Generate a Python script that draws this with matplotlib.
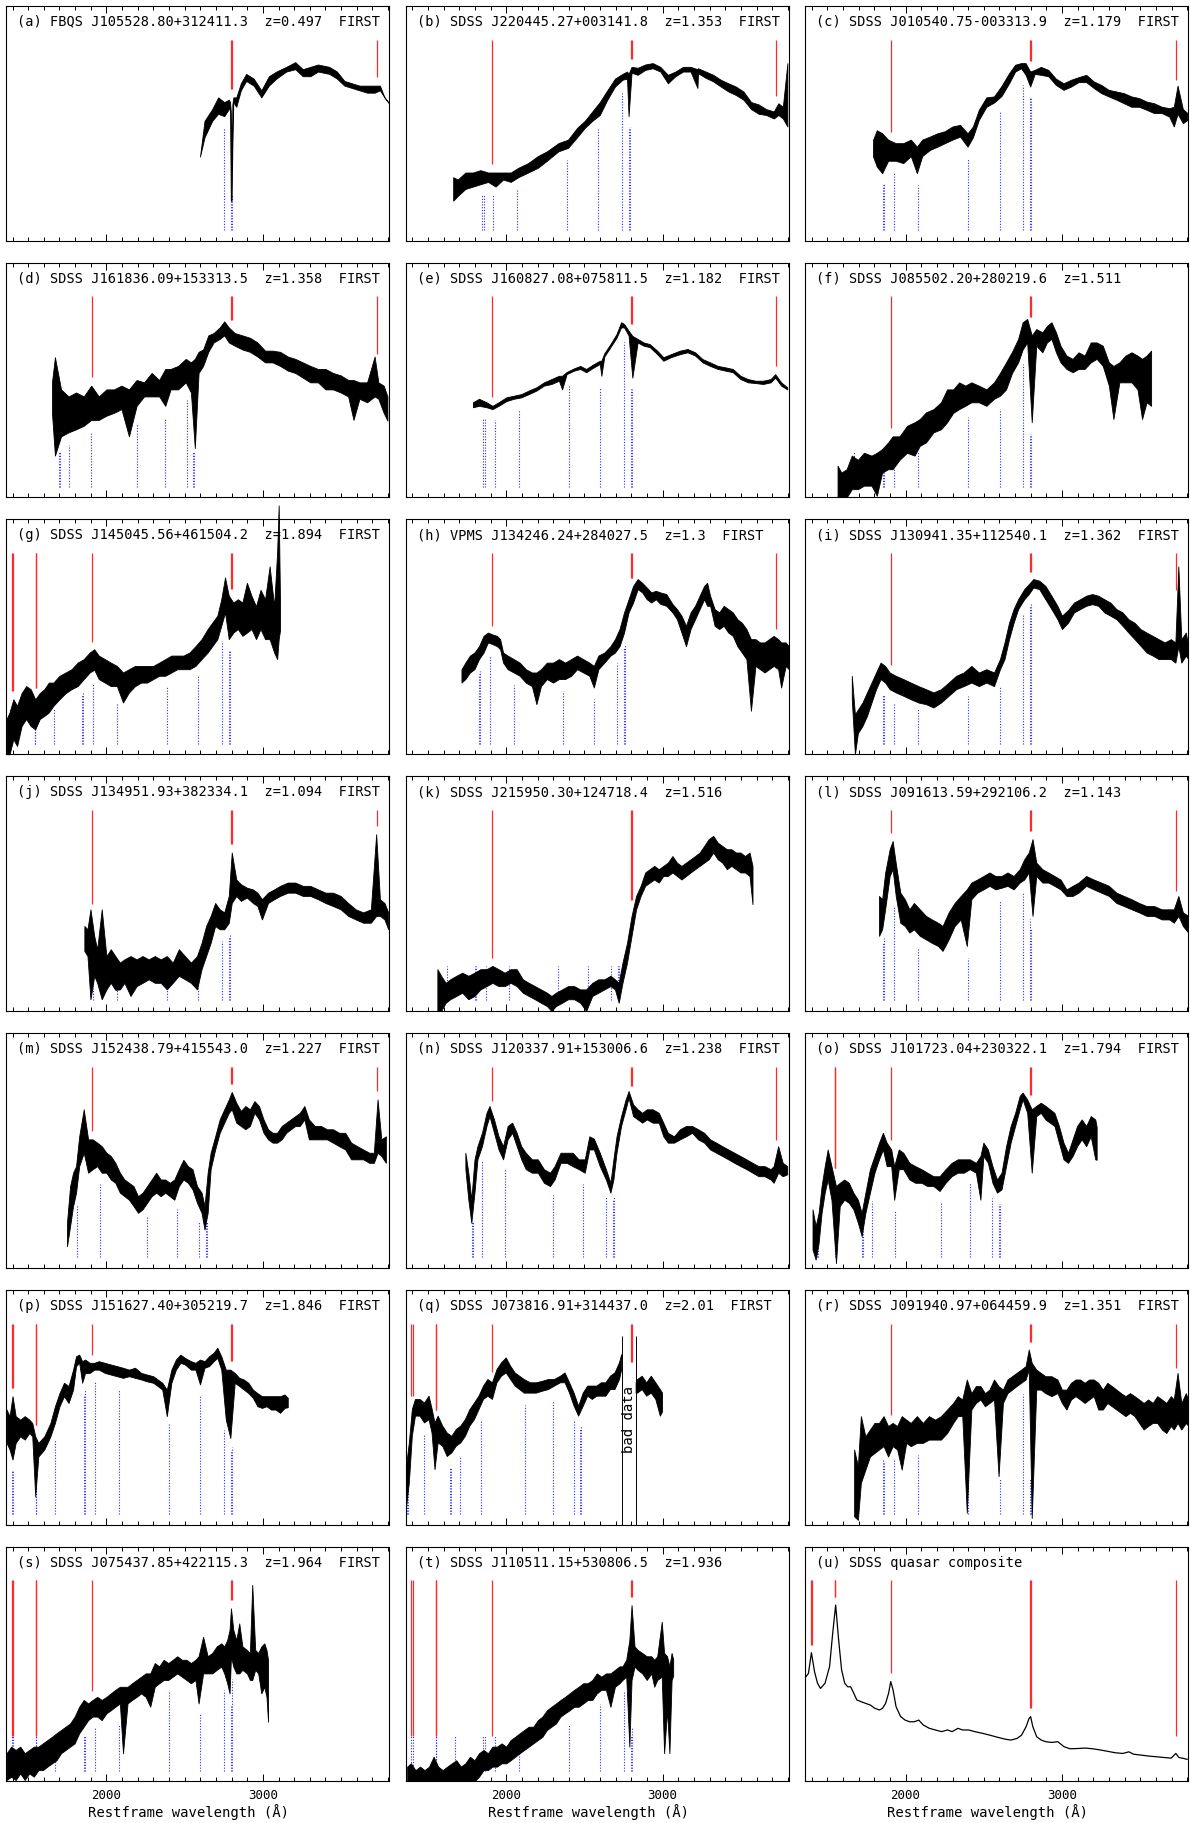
import numpy as np
import matplotlib
matplotlib.use("Agg")
import matplotlib.pyplot as plt
from matplotlib.ticker import MultipleLocator, FixedLocator

# ---------------- data (relative flux in % of panel height) ----------------
titles = [
    "(a) FBQS J105528.80+312411.3  z=0.497  FIRST",
    "(b) SDSS J220445.27+003141.8  z=1.353  FIRST",
    "(c) SDSS J010540.75-003313.9  z=1.179  FIRST",
    "(d) SDSS J161836.09+153313.5  z=1.358  FIRST",
    "(e) SDSS J160827.08+075811.5  z=1.182  FIRST",
    "(f) SDSS J085502.20+280219.6  z=1.511",
    "(g) SDSS J145045.56+461504.2  z=1.894  FIRST",
    "(h) VPMS J134246.24+284027.5  z=1.3  FIRST",
    "(i) SDSS J130941.35+112540.1  z=1.362  FIRST",
    "(j) SDSS J134951.93+382334.1  z=1.094  FIRST",
    "(k) SDSS J215950.30+124718.4  z=1.516",
    "(l) SDSS J091613.59+292106.2  z=1.143",
    "(m) SDSS J152438.79+415543.0  z=1.227  FIRST",
    "(n) SDSS J120337.91+153006.6  z=1.238  FIRST",
    "(o) SDSS J101723.04+230322.1  z=1.794  FIRST",
    "(p) SDSS J151627.40+305219.7  z=1.846  FIRST",
    "(q) SDSS J073816.91+314437.0  z=2.01  FIRST",
    "(r) SDSS J091940.97+064459.9  z=1.351  FIRST",
    "(s) SDSS J075437.85+422115.3  z=1.964  FIRST",
    "(t) SDSS J110511.15+530806.5  z=1.936",
    "(u) SDSS quasar composite",
]

# absorber-frame scaling of the absorption line list (relative to emission frame)
abs_factor = [1.0, 0.996, 1.0, 0.914, 1.0, 1.0, 0.995, 0.985, 1.0, 0.995,
              0.971, 1.0, 0.942, 0.959, 0.928, 1.0, 0.884, 1.0, 1.0, 1.0, None]

EMIS_LINES = [[1393.76, 1402.77], [1548.20, 1550.77], [1908.73],
              [2796.35, 2803.53], [3727.0]]
ABS_LINES = [[1393.76, 1402.77], [1548.20, 1550.77], [1670.79],
             [1854.72, 1862.79], [1926.3], [2080.0], [2400.0], [2600.17],
             [2752.0], [2796.35, 2803.53]]

bad_data_q = [2743, 2830]

lam_a = [2598, 2627, 2676, 2714, 2753, 2782, 2790, 2795, 2800, 2805, 2811, 2830, 2859, 2893, 2941, 2990, 3038, 3086, 3149, 3207, 3255, 3303, 3352, 3424, 3473, 3521, 3569, 3617, 3666, 3714, 3748, 3777, 3806]
lo_a = [35.8, 44, 51, 54, 53, 56, 56, 17, 17, 40, 59, 57, 64, 68, 66, 61, 66, 69, 72, 73, 70, 70, 72, 71, 69, 66, 65, 64, 63, 63, 64, 61, 58.5]
hi_a = [35.8, 51, 56, 61, 59, 60, 59, 55, 30, 58, 61, 61, 67, 71, 69, 64, 70, 72, 74, 76, 73, 74, 75, 74, 72, 68, 67, 66, 66, 66, 66, 61, 58.5]

lam_b = [1661, 1690, 1739, 1787, 1835, 1884, 1932, 1980, 2029, 2077, 2140, 2202, 2260, 2333, 2395, 2453, 2502, 2550, 2598, 2646, 2695, 2743, 2772, 2782, 2801, 2840, 2888, 2936, 2985, 3033, 3081, 3130, 3178, 3222, 3226, 3275, 3323, 3371, 3420, 3468, 3516, 3565, 3613, 3661, 3710, 3739, 3768, 3797]
lo_b = [17, 19, 22, 23, 24, 25, 23, 26, 25, 27, 29, 31, 34, 38, 39.5, 44, 48, 51, 53.5, 60, 65.6, 68.5, 69, 53, 71.5, 70.6, 72.7, 73.4, 72, 67, 70, 72, 72, 65, 71.3, 69.3, 67.8, 65.6, 63.5, 62, 60, 56, 54, 53.5, 52, 53.5, 52, 48.6]
hi_b = [27, 26, 29, 29, 30, 29, 29, 29, 29, 31, 33, 36, 38, 41.5, 43, 48, 51, 55, 59, 64, 69, 71, 72, 71, 74, 73.6, 75, 75.6, 74, 70.6, 72, 74, 74, 73, 73.4, 72, 70.6, 68.5, 67, 65.6, 63.5, 59, 58, 56, 55, 58.5, 57, 75.6]

lam_c = [1792, 1816, 1850, 1888, 1937, 1985, 2033, 2072, 2106, 2155, 2203, 2251, 2299, 2348, 2396, 2430, 2468, 2516, 2565, 2613, 2661, 2700, 2738, 2767, 2796, 2825, 2864, 2912, 2960, 3009, 3057, 3105, 3154, 3202, 3250, 3298, 3347, 3395, 3443, 3492, 3540, 3588, 3637, 3685, 3714, 3738, 3772, 3801]
lo_c = [35.8, 31.5, 28.7, 34, 34, 33, 36, 28.7, 36, 38.6, 40, 41.5, 43, 44.3, 40, 44, 51.4, 57, 58.8, 61.6, 67, 72, 73.4, 70.6, 65.6, 71, 70.6, 70, 66.3, 64.2, 65.6, 67.5, 67.5, 65, 62.8, 61.4, 60, 58.5, 57, 57, 55.7, 54.3, 54.3, 52.8, 48.6, 54, 50, 51.4]
hi_c = [43, 47, 45.7, 43, 41.5, 41.5, 43, 40, 43, 44.3, 45.7, 46.6, 48.6, 49.3, 45.7, 48.6, 55.7, 61, 61.4, 65.9, 71.3, 74.9, 75.6, 75.6, 72, 72.7, 74, 72.7, 69, 67, 68.5, 69.6, 70.6, 67.8, 66.3, 64.2, 63.5, 62.8, 61.4, 60.7, 59.2, 58.5, 57, 56.4, 57, 66, 56, 54.3]

lam_d = [1652, 1671, 1710, 1758, 1806, 1855, 1903, 1951, 2000, 2048, 2096, 2144, 2193, 2241, 2289, 2337, 2376, 2410, 2458, 2507, 2540, 2565, 2589, 2618, 2651, 2685, 2724, 2753, 2782, 2820, 2869, 2917, 2965, 3014, 3062, 3110, 3159, 3207, 3255, 3303, 3352, 3400, 3448, 3497, 3545, 3579, 3617, 3666, 3714, 3738, 3772, 3796]
lo_d = [36, 17.8, 26, 27.7, 29, 30.5, 33, 33, 34.8, 36, 37.6, 26, 39, 43, 43, 43, 39, 46, 46, 49, 44.7, 21, 53, 56, 62, 66, 67.5, 69, 66, 64.6, 63, 62, 60, 57.5, 57.5, 56, 54, 53, 51, 49, 49, 46, 46, 44.7, 43, 33, 42, 40.5, 43, 42, 36, 32.7]
hi_d = [49, 59.7, 46, 43, 44.7, 43, 47.6, 43, 46, 46, 47.6, 46, 50, 49, 53, 50, 54.7, 54.7, 56, 59, 57.5, 59, 62, 63, 69, 70, 72.4, 75, 72.4, 70, 69, 68, 66, 62.5, 62.5, 62, 60, 59, 57.5, 56, 54.7, 54.7, 53, 52, 50, 50, 49, 49, 60, 49, 47.6, 43]

lam_e = [1787, 1826, 1874, 1912, 1951, 2000, 2048, 2096, 2144, 2193, 2241, 2289, 2337, 2357, 2386, 2434, 2473, 2511, 2560, 2598, 2608, 2627, 2666, 2705, 2734, 2753, 2782, 2806, 2840, 2878, 2917, 2965, 3004, 3052, 3110, 3159, 3207, 3255, 3303, 3352, 3400, 3448, 3497, 3545, 3593, 3641, 3690, 3719, 3757, 3796]
lo_e = [38.4, 39, 38.4, 37.6, 39, 41, 42, 42.6, 44, 45.5, 47.6, 48.3, 49.7, 46, 52.5, 54, 54.7, 53.3, 55.4, 56.8, 51.8, 60, 64, 68, 72.4, 72.4, 69, 51, 66, 64.6, 64, 61, 58.2, 59.7, 61, 61.8, 60.4, 57.5, 56, 54.7, 54, 53.3, 50.4, 49, 48.7, 48.3, 49, 51, 47.6, 46]
hi_e = [40.5, 42, 40.5, 39, 40.5, 42.6, 43.3, 44, 45.5, 46.9, 49, 50.4, 51.8, 51.8, 53.4, 55, 56, 54.7, 56.8, 58.2, 58.2, 61.4, 65.3, 69.6, 74.6, 73.9, 71, 68.8, 67.5, 66, 65.3, 62.5, 59.7, 61, 62.5, 63.2, 61.8, 58.9, 57.5, 56, 55.4, 54.7, 51.8, 50.4, 49.7, 49.7, 50.4, 52.5, 49, 46.9]

lam_f = [1565, 1589, 1623, 1656, 1695, 1734, 1782, 1816, 1850, 1888, 1917, 1961, 2009, 2057, 2091, 2130, 2178, 2226, 2265, 2304, 2342, 2381, 2420, 2468, 2516, 2565, 2603, 2642, 2680, 2719, 2748, 2777, 2806, 2835, 2874, 2903, 2932, 2961, 2990, 3028, 3067, 3105, 3144, 3183, 3221, 3260, 3299, 3328, 3366, 3405, 3444, 3482, 3511, 3540, 3569]
lo_f = [0, 0, 0, 3.5, 3.5, 5, 5, 0.7, 10.6, 12, 12, 16, 19, 17.8, 22, 23.4, 27.7, 29, 32, 36, 37.6, 39, 40.5, 40.5, 39, 42, 43.3, 46, 53, 57.5, 63, 66, 32, 64.6, 61.8, 66, 67.5, 61.8, 57.5, 54.7, 53.3, 54.7, 54.7, 57.5, 59, 56, 47.6, 33.4, 49, 49, 49, 46, 33.4, 40.5, 39]
hi_f = [13.5, 10.6, 12, 17.8, 16, 19, 17.8, 19, 20.6, 23.4, 26, 26, 30.5, 32, 33.4, 36.2, 37.6, 40.5, 46, 46, 49, 47.6, 49, 47.6, 46, 49, 53, 57.5, 62, 67.5, 74.6, 76, 69, 71.7, 70.3, 73, 74.6, 70.3, 64.6, 60.4, 59, 61.8, 60.4, 66, 66, 64.6, 57.5, 56, 57.5, 60.4, 61.8, 60.4, 59, 60.4, 62.5]

lam_g = [1362, 1381, 1405, 1429, 1458, 1487, 1516, 1545, 1574, 1603, 1632, 1661, 1700, 1739, 1777, 1816, 1855, 1893, 1922, 1951, 1990, 2028, 2067, 2106, 2144, 2183, 2222, 2260, 2299, 2337, 2376, 2415, 2453, 2492, 2531, 2569, 2608, 2647, 2676, 2709, 2734, 2758, 2782, 2811, 2840, 2869, 2898, 2927, 2956, 2985, 3014, 3043, 3072, 3091, 3101, 3110]
lo_g = [0, 0, 6.4, 3.5, 12, 15, 12, 10.6, 15, 16.3, 17.8, 20.6, 23.4, 26, 27.7, 29, 32, 34.8, 36, 32, 30.5, 29, 29, 22, 26.3, 29, 30.5, 30.5, 32, 33.4, 33.4, 34.8, 36.2, 36.2, 36.2, 37.6, 40.5, 43.3, 46, 49, 54.7, 60.4, 49, 51.8, 53.3, 50.4, 51.8, 53.3, 49, 53.3, 49, 49, 43.3, 40.5, 49, 53]
hi_g = [15, 17.8, 23.4, 20.6, 26, 29, 27.7, 23.4, 26, 27.7, 30.5, 30.5, 33.4, 34.8, 36.2, 39, 40.5, 43.3, 44.7, 42, 40.5, 39, 37.6, 34.8, 36.2, 37.6, 37.6, 37.6, 37.6, 39, 40.5, 42, 42, 42, 43.3, 46, 49, 53.3, 56, 59, 66, 75.3, 67.5, 64.6, 66, 64.6, 73, 67.5, 63, 70, 66, 80, 63, 86, 106, 62]

lam_h = [1714, 1739, 1768, 1797, 1826, 1855, 1883, 1912, 1941, 1961, 1980, 2009, 2048, 2086, 2125, 2164, 2193, 2222, 2260, 2299, 2337, 2376, 2415, 2453, 2492, 2531, 2560, 2589, 2627, 2666, 2695, 2724, 2753, 2782, 2811, 2840, 2869, 2898, 2927, 2956, 2985, 3023, 3062, 3091, 3120, 3149, 3178, 3207, 3236, 3265, 3284, 3303, 3332, 3361, 3390, 3419, 3448, 3477, 3506, 3535, 3564, 3593, 3622, 3651, 3680, 3709, 3738, 3757, 3786, 3806]
lo_h = [30.5, 32, 34.8, 36.2, 40.5, 43.3, 47.6, 46.9, 46, 44.7, 39, 36.2, 34.8, 33.4, 30.5, 29, 21.3, 29, 32, 30.5, 32, 32, 33.4, 36.2, 34.8, 33.4, 28.4, 36.2, 39, 42, 43.3, 46, 51.8, 60.4, 64.6, 70.3, 68.9, 66, 64.6, 66, 64, 63.2, 60.4, 57.5, 51.8, 46, 53.3, 57.5, 61.8, 66, 63.2, 63.2, 54.7, 53.3, 54.7, 51.8, 50.4, 46, 43.3, 40.5, 18.5, 37.6, 36.2, 34.8, 36.2, 37.6, 36.2, 28.4, 37.6, 36.2]
hi_h = [36.2, 39, 42, 43.3, 46, 50.4, 51.8, 51, 50.4, 49, 43.3, 42, 40.5, 39, 36.2, 34.8, 34.8, 36.2, 39, 39, 40.5, 39, 40.5, 42, 40.5, 39, 37.6, 42, 43.3, 46, 49, 53.3, 60.4, 66, 71.7, 74.6, 73, 71, 68.9, 69.6, 68.9, 68.2, 64, 61.8, 59, 54.7, 60.4, 63.2, 67.5, 71.7, 73, 67.5, 61.8, 60.4, 63.2, 61.8, 60.4, 57.5, 56, 53.3, 49, 49, 47.6, 47.6, 49, 50.4, 49, 47.6, 47.6, 46]

lam_i = [1656, 1676, 1695, 1724, 1753, 1782, 1811, 1840, 1869, 1898, 1937, 1985, 2033, 2082, 2130, 2178, 2226, 2275, 2323, 2371, 2420, 2468, 2516, 2565, 2603, 2632, 2661, 2690, 2719, 2758, 2787, 2816, 2854, 2893, 2932, 2970, 2999, 3038, 3076, 3115, 3154, 3192, 3231, 3270, 3308, 3347, 3386, 3424, 3463, 3501, 3540, 3579, 3617, 3656, 3695, 3724, 3743, 3762, 3791, 3806]
lo_i = [23.4, 0, 9, 12, 16.3, 22, 27.7, 32, 30.5, 27.7, 26.3, 24.9, 23.4, 22, 21.3, 19.9, 22, 24.9, 27.7, 29, 30.5, 29, 30.5, 29, 36.2, 40.5, 49, 56, 61.8, 66, 68.2, 71, 70.3, 66, 61.8, 57.5, 53.3, 56, 60.4, 61.8, 63.2, 63.9, 63.2, 60.4, 59, 57.5, 54.7, 51.8, 49, 46.2, 43.3, 42, 40.5, 40.5, 40.5, 39, 46, 39, 42, 40.5]
hi_i = [33.4, 17, 19, 22, 26.3, 30.5, 34.8, 39, 37.6, 34.8, 33.4, 32, 30.5, 29, 27.7, 26.3, 27.7, 30.5, 33.4, 34.8, 37.6, 34.8, 36.2, 34.8, 40.5, 47.6, 56, 61.8, 66, 70.3, 72.4, 74.6, 73.9, 71.7, 67.5, 63.2, 59, 61.4, 64.6, 66, 67.5, 68.2, 67.5, 66, 64.6, 61.8, 60.4, 57.5, 56, 53.3, 51.8, 50.4, 49, 47.6, 49, 47.6, 80, 49, 51.8, 46]

lam_j = [1859, 1879, 1898, 1922, 1941, 1970, 2000, 2028, 2057, 2086, 2115, 2154, 2193, 2231, 2270, 2309, 2347, 2386, 2424, 2463, 2502, 2540, 2579, 2608, 2637, 2666, 2695, 2724, 2753, 2782, 2801, 2830, 2859, 2898, 2936, 2965, 2994, 3033, 3072, 3110, 3159, 3207, 3255, 3303, 3352, 3400, 3448, 3497, 3545, 3593, 3641, 3690, 3724, 3748, 3777, 3801]
lo_j = [25.6, 23.4, 5, 15, 12, 5, 9.2, 12, 9, 9.2, 12, 6.4, 10.6, 12, 13.5, 12, 12, 9.2, 12, 15, 13.5, 12, 9.2, 17.8, 23.4, 29, 36.2, 34.8, 34.8, 37.6, 46, 49, 46.9, 48.3, 46, 44.7, 39, 46, 47.6, 49, 50.4, 50.4, 49, 49, 47.6, 46, 44.7, 43.3, 40.5, 39, 37.6, 37.6, 40.5, 40.5, 39, 34.8]
hi_j = [36.2, 34.8, 43.3, 32, 26.3, 43.3, 23.4, 26.3, 23.4, 20.6, 22, 23.4, 22, 23.4, 22, 23.4, 22, 23.4, 20.6, 26.3, 23.4, 20.6, 23.4, 29, 36.2, 40.5, 46, 43.3, 42, 49, 67.5, 56, 54, 52.5, 51.8, 50.4, 47.6, 50.4, 51.8, 53.3, 54.7, 54.7, 53.3, 53.3, 51.8, 50.4, 50.4, 49, 46, 43.3, 42, 43.3, 75.3, 47.6, 46, 42]

lam_k = [1560, 1584, 1613, 1642, 1681, 1719, 1758, 1797, 1835, 1874, 1912, 1951, 1990, 2028, 2067, 2106, 2144, 2183, 2222, 2260, 2289, 2318, 2357, 2395, 2434, 2473, 2511, 2550, 2589, 2627, 2666, 2695, 2719, 2743, 2772, 2801, 2830, 2859, 2888, 2917, 2946, 2975, 3004, 3033, 3062, 3091, 3120, 3149, 3178, 3207, 3236, 3265, 3294, 3323, 3352, 3381, 3410, 3439, 3468, 3497, 3526, 3555, 3574]
lo_k = [0, 0, 3.5, 5, 6.4, 7.8, 5, 6.4, 9.2, 10.6, 12, 10.6, 10.6, 12, 10.6, 7.8, 6.4, 5, 3.5, 2.1, 0, 2.1, 3.5, 5, 5, 3.5, 0, 6.4, 7.8, 9.2, 10.6, 9.2, 3.5, 12, 20.6, 32, 43.3, 49, 53.3, 54.7, 56, 54.7, 57.5, 57.5, 59, 57.5, 56, 57.5, 59, 60.4, 61.8, 63.2, 64.6, 67.5, 64.6, 63.2, 60.4, 61.8, 60.4, 59, 59, 57.5, 45.5]
hi_k = [17.8, 15, 12, 13.5, 15, 16.3, 15, 16.3, 17.8, 17.8, 19.2, 17.8, 16.3, 17.8, 17.8, 13.5, 12, 10.6, 9.2, 7.8, 6.4, 7.8, 9.2, 10.6, 10.6, 9.2, 9.2, 12, 13.5, 13.5, 15, 13.5, 12, 20.6, 29, 40.5, 49, 53.3, 59, 60.4, 61.8, 60.4, 61.8, 63.2, 66, 63.2, 61.8, 63.2, 64.6, 66, 67.5, 70.3, 73.2, 74.6, 71.7, 70.3, 68.9, 68.9, 67.5, 67.5, 66, 67.5, 61.8]

lam_l = [1830, 1850, 1869, 1898, 1917, 1937, 1966, 1995, 2024, 2053, 2091, 2130, 2168, 2207, 2236, 2275, 2313, 2352, 2391, 2420, 2458, 2497, 2536, 2574, 2613, 2651, 2690, 2729, 2758, 2787, 2811, 2835, 2874, 2912, 2951, 2990, 3028, 3067, 3105, 3154, 3202, 3250, 3299, 3347, 3395, 3444, 3492, 3540, 3588, 3637, 3685, 3714, 3743, 3772, 3806]
lo_l = [32, 34.8, 43.3, 57.5, 60.4, 49, 37.6, 36.2, 33.4, 34.8, 32, 30.5, 29, 27.7, 25.6, 30.5, 36.2, 39, 27.7, 47.6, 50.4, 51.8, 53.3, 51.8, 52.5, 53.3, 51.8, 54.7, 56, 59, 40.5, 57.5, 54.7, 54.7, 53.3, 51.8, 49, 49, 50.4, 53.3, 51.8, 50.4, 49, 46, 44.7, 43.3, 42, 40.5, 40.5, 39, 39, 37.6, 40.5, 36.2, 33.4]
hi_l = [49, 47.6, 58.8, 68.9, 72.4, 63, 50.4, 47.6, 43.3, 46, 43.3, 40.5, 39, 37.6, 36.2, 42, 46, 49, 51.8, 54.7, 56, 57.5, 59, 57.5, 57.5, 59, 57.5, 60.4, 64.6, 67.5, 73.2, 63.2, 60.4, 59, 57.5, 56, 51.8, 53.3, 54.7, 57.5, 56, 54.7, 53.3, 50.4, 49, 47.6, 46, 44.7, 44.7, 43.3, 43.3, 43.3, 49, 42, 40.5]

lam_m = [1748, 1768, 1787, 1806, 1826, 1855, 1883, 1912, 1941, 1970, 2000, 2028, 2057, 2086, 2115, 2144, 2173, 2202, 2231, 2260, 2289, 2318, 2347, 2376, 2405, 2434, 2463, 2492, 2521, 2550, 2579, 2608, 2627, 2647, 2666, 2695, 2724, 2753, 2782, 2801, 2830, 2859, 2888, 2917, 2946, 2975, 3004, 3033, 3062, 3091, 3120, 3149, 3178, 3207, 3236, 3265, 3294, 3332, 3371, 3410, 3448, 3487, 3526, 3564, 3603, 3641, 3680, 3709, 3733, 3757, 3786]
lo_m = [9.2, 17.8, 26.3, 32, 43.3, 49, 40.5, 42, 43.3, 40.5, 40.5, 37.6, 36.2, 32, 30.5, 29, 26.3, 23.4, 24.9, 27.7, 30.5, 32, 30.5, 32, 30.5, 29, 34.8, 37.6, 36.2, 33.4, 27.7, 23.4, 16.3, 23.4, 42, 50.4, 57.5, 61.8, 66, 67.5, 61.8, 60.4, 59, 60.4, 66, 63.2, 57.5, 54.7, 53.3, 53.3, 54.7, 57.5, 59, 60.4, 60.4, 63.2, 54.7, 54.7, 54.7, 54.7, 53.3, 51.8, 50.4, 46.2, 46.2, 46.2, 44.7, 44.7, 49, 47.6, 44.7]
hi_m = [19.2, 34.8, 40.5, 43.3, 56, 67.5, 54.7, 54.7, 53.3, 51.8, 49, 47.6, 44.7, 40.5, 37.6, 36.2, 34.8, 30.5, 32, 34.8, 37.6, 40.5, 37.6, 37.6, 36.2, 37.6, 42, 46, 43.3, 42, 34.8, 32, 26.3, 40.5, 49, 56, 63.2, 67.5, 71.7, 74.9, 70.3, 66.8, 68.9, 67.5, 71, 68.9, 63.2, 59, 57.5, 57.5, 60.4, 61.8, 63.2, 64.6, 66, 68.9, 63.2, 60.4, 60.4, 59, 59, 57.5, 57.5, 53.3, 51.8, 50.4, 49, 49, 71.7, 54.7, 56]

lam_n = [1739, 1758, 1777, 1797, 1816, 1845, 1874, 1893, 1922, 1951, 1980, 2009, 2038, 2067, 2096, 2125, 2164, 2202, 2241, 2280, 2309, 2347, 2386, 2424, 2463, 2502, 2531, 2560, 2598, 2637, 2666, 2685, 2705, 2734, 2763, 2782, 2811, 2840, 2869, 2898, 2936, 2975, 3004, 3033, 3072, 3110, 3149, 3188, 3226, 3265, 3303, 3342, 3381, 3419, 3458, 3497, 3535, 3574, 3613, 3651, 3690, 3709, 3738, 3767, 3796]
lo_n = [42, 29, 19.2, 32, 46.2, 51.8, 60.4, 64.6, 57.5, 50.4, 46.2, 54.7, 57.5, 51.8, 46.2, 42, 40.5, 40.5, 36.2, 34.8, 37.6, 44.7, 44.7, 43.3, 42, 40.5, 50.4, 50.4, 43.3, 37.6, 32, 37.6, 49, 60.4, 67.5, 72.4, 64.6, 63.2, 61.8, 63.2, 61.8, 61.8, 56, 53.3, 53.3, 54.7, 56, 57.5, 54.7, 53.3, 50.4, 49, 47.6, 46.2, 44.7, 43.3, 42, 40.5, 39, 39, 37.6, 36.2, 40.5, 39, 39.8]
hi_n = [49, 40.5, 29, 46, 51.8, 57.5, 66, 68.9, 63.2, 56, 51.8, 60.4, 61.8, 57.5, 51.8, 49, 46.2, 46.2, 42, 40.5, 43.3, 49, 49, 49, 46.2, 46.2, 56, 55, 49, 42, 36.2, 46.2, 56, 64.6, 71.7, 75.3, 69.6, 67.5, 66, 67.5, 67.5, 66, 61.8, 57.5, 56, 59, 60.4, 60.4, 59, 57.5, 54.7, 53.3, 51.8, 50.4, 49, 47.6, 46.2, 44.7, 43.3, 43.3, 42, 43.3, 51.8, 44.7, 43.3]

lam_o = [1405, 1425, 1444, 1463, 1483, 1502, 1526, 1555, 1579, 1608, 1637, 1666, 1695, 1719, 1743, 1772, 1801, 1830, 1855, 1879, 1908, 1927, 1956, 1985, 2024, 2062, 2101, 2139, 2178, 2217, 2255, 2294, 2333, 2371, 2410, 2449, 2478, 2497, 2526, 2555, 2584, 2613, 2642, 2671, 2700, 2729, 2748, 2777, 2806, 2835, 2864, 2893, 2922, 2951, 2980, 3009, 3038, 3067, 3096, 3125, 3154, 3183, 3212, 3221]
lo_o = [7.8, 3.5, 10.6, 23.4, 32, 37.6, 29, 2, 26.3, 29, 27.7, 24.9, 19.2, 13.5, 23.4, 32, 40.5, 46.2, 50.4, 43.3, 43.3, 29, 42, 42, 37.6, 36.2, 36.2, 34.8, 34.8, 32.7, 36.2, 39, 40.5, 40.5, 42, 40.5, 29, 47.6, 44.7, 36.2, 32, 33.4, 43.3, 53.3, 60.4, 67.5, 71.7, 66, 40.5, 64.6, 66, 63.2, 61.8, 60.4, 53.3, 46.2, 44.7, 47.6, 51.8, 54.7, 51.8, 56, 46.2, 46]
hi_o = [24.9, 17.8, 23.4, 34.8, 43.3, 50.4, 43.3, 34.8, 36.2, 37.6, 36.2, 32, 29, 23.4, 32, 42, 47.6, 53.3, 57.5, 53.3, 50.4, 43.3, 50.4, 49, 44.7, 43.3, 42, 40.5, 39, 39, 42, 44.7, 46.2, 46.2, 46.2, 44.7, 47.6, 53.3, 50.4, 43.3, 37.6, 40.5, 51.8, 60.4, 66, 73.2, 74.6, 71.7, 67.5, 69, 70.3, 69, 67.5, 66, 60.4, 53.3, 49, 54.7, 60.4, 63.2, 60.4, 64.6, 63.2, 60]

lam_p = [1362, 1381, 1400, 1420, 1449, 1478, 1507, 1526, 1545, 1565, 1584, 1603, 1623, 1642, 1671, 1700, 1729, 1758, 1787, 1806, 1826, 1845, 1864, 1893, 1922, 1951, 1990, 2028, 2067, 2106, 2144, 2183, 2222, 2260, 2299, 2328, 2357, 2386, 2415, 2444, 2473, 2502, 2540, 2569, 2598, 2627, 2656, 2685, 2709, 2734, 2763, 2792, 2820, 2849, 2878, 2907, 2936, 2965, 2994, 3023, 3052, 3081, 3110, 3139, 3159]
lo_p = [34.8, 32, 27.7, 34.8, 37.6, 36.2, 39, 37.6, 12, 29, 30.5, 32, 34.8, 37.6, 43.3, 50.4, 54.7, 51.8, 57.5, 67.5, 68.9, 60.4, 64.6, 64.6, 66, 66, 64.6, 63.9, 63.2, 62.5, 63.2, 62.5, 61.8, 61, 60.4, 59, 57.5, 46.2, 60.4, 66, 68.9, 68.2, 66, 66, 59.7, 66.8, 67.5, 69.6, 71, 66, 44.7, 36.9, 60.4, 59, 57.5, 56, 54, 50.4, 49.7, 50.4, 49, 49, 47.6, 49.7, 50]
hi_p = [49, 46.2, 54.7, 46.2, 44.7, 46.2, 44.7, 43.3, 37.6, 34.8, 36.2, 37.6, 40.5, 43.3, 50.4, 56, 60.4, 59, 66, 71.7, 72.4, 69.6, 70.3, 68.9, 68.9, 69.6, 68.9, 68.2, 67.5, 66.8, 66, 66.8, 64.6, 63.9, 63.2, 61.8, 60.4, 57.5, 66, 70.3, 72.4, 71, 69.6, 68.9, 70.3, 69.6, 71.7, 73.2, 75.3, 71.7, 66, 66, 64.6, 62.5, 61.8, 60.4, 57.5, 56, 54.7, 54.7, 54.7, 54.7, 54.7, 55.4, 54]

nan = float("nan")
lam_q = [1350, 1381, 1400, 1420, 1449, 1478, 1507, 1526, 1545, 1565, 1594, 1623, 1652, 1681, 1710, 1739, 1768, 1797, 1826, 1855, 1883, 1912, 1941, 1970, 2000, 2028, 2057, 2086, 2115, 2154, 2193, 2231, 2270, 2309, 2347, 2376, 2405, 2434, 2463, 2492, 2521, 2550, 2579, 2608, 2637, 2666, 2695, 2724, 2738, 2785, 2830, 2840, 2869, 2898, 2927, 2956, 2985, 2999]
lo_q = [0, 17.8, 37.6, 46.2, 46.2, 43.3, 44.7, 39, 23.4, 34.8, 33.4, 29, 30.5, 33.4, 34.8, 37.6, 42, 44.7, 49, 53.3, 54.7, 53.3, 60.4, 63.2, 64.6, 61.8, 59, 57.5, 56, 56, 56, 56.8, 57.5, 59, 60.4, 60.4, 56, 50.4, 46.2, 50.4, 54.7, 53.3, 54.7, 54.7, 54.7, 57.5, 57.5, 61.8, 66, nan, 56, 56, 57.5, 54.7, 56, 53.3, 46.2, 48]
hi_q = [17.8, 34.8, 49, 53.3, 53.3, 51.8, 54.7, 49.3, 43.3, 46.2, 42, 39, 37.6, 40.5, 42, 44.7, 49, 51.8, 54.7, 59, 61.8, 60.4, 66, 68.9, 71, 67.5, 64.6, 63.2, 61.8, 60.4, 60.4, 61, 61.8, 61.8, 63.2, 64.6, 60.4, 56, 50.4, 56, 59, 59, 59, 60.4, 60.4, 63.2, 64.6, 68.9, 72.4, nan, 60.4, 61.8, 63.2, 60.4, 63.2, 60.4, 57.5, 56]

lam_r = [1671, 1695, 1714, 1743, 1772, 1801, 1830, 1859, 1888, 1917, 1946, 1975, 2004, 2033, 2072, 2110, 2149, 2188, 2226, 2265, 2304, 2333, 2362, 2391, 2420, 2449, 2478, 2507, 2536, 2565, 2594, 2622, 2651, 2680, 2709, 2738, 2767, 2787, 2806, 2835, 2864, 2893, 2932, 2970, 2999, 3028, 3057, 3086, 3115, 3144, 3173, 3202, 3231, 3260, 3289, 3318, 3347, 3376, 3405, 3434, 3463, 3492, 3521, 3550, 3579, 3608, 3637, 3666, 3695, 3714, 3738, 3762, 3791, 3806]
lo_r = [3.5, 2, 17.8, 23.4, 29, 30.5, 32, 33.4, 29, 33.4, 32, 23.4, 34.8, 33.4, 34.8, 34.8, 36.2, 36.2, 36.2, 39, 43.3, 46.2, 46.2, 5, 49, 51.8, 53.3, 50.4, 51.8, 53.3, 20.6, 51.8, 56, 57.5, 59, 60.4, 61.8, 66, 2.8, 57.5, 57.5, 56, 54.7, 56, 51.8, 49, 53.3, 54.7, 53.3, 51.8, 53.3, 54.7, 49, 49, 51.8, 50.4, 49, 47.6, 46.2, 47.6, 46.2, 43.3, 40.5, 42, 43.3, 43.3, 40.5, 39, 42, 40.5, 43.3, 40.5, 43.3, 42]
hi_r = [32, 24.9, 46.2, 37.6, 40.5, 43.3, 43.3, 46.2, 42, 43.3, 42, 46.2, 44.7, 43.3, 46.2, 43.3, 46.2, 44.7, 46.2, 49, 51.8, 54.7, 53.3, 61.8, 56, 59, 59, 56, 57.5, 61.8, 59, 57.5, 61.8, 63.2, 64.6, 66, 67.5, 74.6, 68.9, 66, 64.6, 63.2, 63.2, 61.8, 57.5, 57.5, 60.4, 61.8, 61.8, 60.4, 61.8, 61.8, 60.4, 57.5, 60.4, 59, 57.5, 56, 54.7, 56, 54.7, 53.3, 51.8, 53.3, 51.8, 54.7, 53.3, 51.8, 54.7, 53.3, 64.6, 51.8, 56, 53]

lam_s = [1362, 1391, 1420, 1449, 1478, 1507, 1536, 1565, 1594, 1623, 1652, 1681, 1710, 1739, 1768, 1797, 1826, 1855, 1883, 1912, 1941, 1970, 2000, 2028, 2057, 2086, 2106, 2135, 2164, 2193, 2222, 2251, 2280, 2309, 2337, 2366, 2395, 2424, 2453, 2482, 2511, 2540, 2569, 2589, 2618, 2647, 2676, 2705, 2734, 2753, 2772, 2787, 2796, 2811, 2830, 2849, 2869, 2898, 2917, 2932, 2951, 2970, 2990, 3009, 3023, 3033]
lo_s = [0.6, 2, 0.6, 3.4, 0.6, 3.4, 2, 4.8, 4.8, 6.3, 7.7, 9, 12, 13.4, 14.8, 16.2, 20.5, 23.3, 26.1, 27.6, 27.6, 26.1, 29, 30.3, 31.8, 33.2, 12, 33.2, 34.7, 36, 37.5, 36, 31.8, 40.3, 41.8, 43.2, 43.2, 44.6, 46, 44.6, 43.2, 41.8, 43.2, 33.2, 46, 46, 46, 47.5, 48.9, 46, 41.8, 37.5, 53.1, 48.9, 46, 46, 47.5, 46, 43.2, 43.2, 47.5, 46, 37.5, 40.3, 36, 25.4]
hi_s = [12, 14.8, 13.4, 14.8, 12, 13.4, 14.8, 14.8, 16.2, 17.6, 19, 20.5, 21.9, 23.3, 24.7, 27.6, 31.8, 34.7, 33.2, 34.7, 36, 34.7, 36, 37.5, 39, 40.3, 40.3, 40.3, 41.8, 43.2, 44.6, 46, 46, 50.4, 49, 51.8, 50.4, 51.8, 53.3, 51.8, 51.8, 50.4, 51.8, 53.3, 61.6, 53.3, 54.7, 57.5, 58.8, 57.5, 60.2, 64.5, 73.7, 64.5, 60.2, 67.3, 57.5, 56, 54.7, 83.7, 56, 54.7, 57.5, 58.8, 56, 51.8]

lam_t = [1367, 1391, 1420, 1449, 1478, 1507, 1536, 1565, 1594, 1623, 1652, 1681, 1710, 1739, 1768, 1797, 1826, 1855, 1883, 1912, 1941, 1970, 2000, 2028, 2057, 2086, 2115, 2144, 2173, 2202, 2231, 2260, 2289, 2318, 2347, 2376, 2405, 2434, 2463, 2492, 2521, 2550, 2579, 2608, 2637, 2666, 2695, 2724, 2743, 2767, 2787, 2801, 2820, 2840, 2869, 2898, 2927, 2946, 2965, 2994, 3009, 3028, 3043, 3057, 3067]
lo_t = [0, 0, 0, 0, 0, 0, 0, 0, 0, 0, 0, 0, 0, 0, 0, 0, 2, 4.8, 4.8, 6.3, 6.3, 7.7, 7.7, 9, 10.5, 12, 13.4, 14.8, 16.2, 17.6, 19, 21.9, 23.3, 24.7, 27.6, 29, 30.3, 31.8, 31.8, 33.2, 34.7, 34.7, 37.5, 39, 39, 31.8, 40.3, 41.8, 43.2, 44.6, 14.8, 43.2, 48.9, 47.5, 46, 43.2, 46, 40.3, 43.2, 44.6, 12, 30.3, 12, 43.2, 45]
hi_t = [6.3, 7.7, 4.8, 6.3, 4.8, 6.3, 10.5, 6.3, 4.8, 6.3, 7.7, 9, 6.3, 7.7, 10.5, 9, 12, 13.4, 12, 14.8, 14.8, 16.2, 14.8, 17.6, 19, 20.5, 21.9, 23.3, 23.3, 26.1, 27.6, 30.3, 31.8, 33.2, 34.7, 36, 37.5, 39, 40.3, 41.8, 41.8, 43.2, 46, 44.6, 46, 46, 47.5, 49, 49, 51.8, 60.2, 75.1, 57.5, 56, 54.7, 53.3, 53.3, 51.8, 53.3, 68, 54.7, 53.3, 49, 54.7, 52]

lam_u = [1355, 1379, 1398, 1418, 1437, 1456, 1485, 1514, 1534, 1553, 1572, 1591, 1611, 1630, 1649, 1669, 1688, 1717, 1746, 1775, 1804, 1833, 1852, 1872, 1891, 1905, 1920, 1939, 1968, 1997, 2026, 2055, 2084, 2113, 2152, 2190, 2229, 2268, 2297, 2335, 2364, 2403, 2442, 2490, 2538, 2587, 2635, 2673, 2712, 2741, 2770, 2789, 2799, 2813, 2838, 2867, 2896, 2934, 2973, 3012, 3050, 3098, 3147, 3195, 3243, 3292, 3340, 3388, 3427, 3456, 3504, 3553, 3601, 3649, 3697, 3727, 3746, 3775, 3799]
flux_u = [43.9, 46, 54.8, 46.7, 41.8, 39.6, 41.8, 48.9, 63.1, 75.1, 60.2, 47.4, 41.8, 40.3, 40.3, 37.5, 34.7, 33.9, 33.2, 32.5, 31.1, 30.4, 31.1, 33.2, 37.5, 42.5, 38.9, 31.8, 27.6, 26.1, 25.4, 25.4, 26.1, 24, 22.6, 21.9, 21.2, 21.9, 21.2, 22.6, 21.9, 21.9, 21.2, 20.5, 19.7, 18.8, 18, 17.6, 18.3, 19.7, 23.3, 26.8, 27.6, 23.3, 19, 17.6, 16.9, 16.6, 16.9, 14.8, 13.9, 14, 14.2, 13.9, 13.4, 12.8, 12.2, 11.9, 12.6, 11.6, 11.2, 10.8, 10.5, 10.2, 9.9, 11.9, 10.2, 9.8, 9.4]

spectra = [
    (lam_a, lo_a, hi_a), (lam_b, lo_b, hi_b), (lam_c, lo_c, hi_c),
    (lam_d, lo_d, hi_d), (lam_e, lo_e, hi_e), (lam_f, lo_f, hi_f),
    (lam_g, lo_g, hi_g), (lam_h, lo_h, hi_h), (lam_i, lo_i, hi_i),
    (lam_j, lo_j, hi_j), (lam_k, lo_k, hi_k), (lam_l, lo_l, hi_l),
    (lam_m, lo_m, hi_m), (lam_n, lo_n, hi_n), (lam_o, lo_o, hi_o),
    (lam_p, lo_p, hi_p), (lam_q, lo_q, hi_q), (lam_r, lo_r, hi_r),
    (lam_s, lo_s, hi_s), (lam_t, lo_t, hi_t), (lam_u, flux_u, flux_u),
]

# ---------------- layout ----------------
W, H = 1190, 1823
fig = plt.figure(figsize=(W / 100, H / 100), dpi=100)
MONO = "DejaVu Sans Mono"
XMIN, XMAX = 1357, 3806
col_left = [5.8, 405.6, 805.0]
axw, axh = 383.2, 234.8
row_top0, row_step = 5.8, 256.8

RED_TOP, RED_FLOOR, RED_GAP = 85.6, 19.3, 3.5
DOT_BOT, DOT_FLOOR, DOT_GAP = 4.5, 19.3, 5.0


def window_vals(lam, y, a, b):
    m = ~np.isnan(y)
    grid = np.linspace(a, b, 41)
    v = np.interp(grid, lam[m], y[m])
    inside = y[m][(lam[m] >= a) & (lam[m] <= b)]
    return np.concatenate([v, inside])


for i in range(21):
    r, c = divmod(i, 3)
    left = col_left[c] / W
    bottom = 1 - (row_top0 + r * row_step + axh) / H
    ax = fig.add_axes([left, bottom, axw / W, axh / H])
    ax.set_xlim(XMIN, XMAX)
    ax.set_ylim(0, 100)

    lam, lo, hi = (np.asarray(v, dtype=float) for v in spectra[i])
    lmin, lmax = np.nanmin(lam), np.nanmax(lam)

    # absorption line markers (blue dotted)
    fac = abs_factor[i]
    if fac is not None:
        for group in ABS_LINES:
            for w0 in group:
                w = w0 * fac
                if w < lmin + 16 or w > lmax:
                    continue
                vals = window_vals(lam, lo, w - 10, w + 10)
                top = max(vals.min() - DOT_GAP, DOT_FLOOR)
                ax.vlines(w, DOT_BOT, top, color="#2b2bff", lw=0.8,
                          linestyles=(0, (1.0, 1.5)), zorder=1)

    # spectrum
    clip = (i != 6)
    if i == 20:
        ax.plot(lam, lo, color="black", lw=0.9, zorder=2)
    else:
        ax.fill_between(lam, lo, hi, facecolor="black", edgecolor="black",
                        lw=0.6, zorder=2, clip_on=clip)

    # emission line markers (red)
    for group in EMIS_LINES:
        if min(group) < lmin or max(group) > lmax:
            continue
        vals = window_vals(lam, hi, min(group) - 8, max(group) + 8)
        b = max(vals.max() + RED_GAP, RED_FLOOR)
        for w in group:
            ax.vlines(w, b, RED_TOP, color="#ff2a2a", lw=0.9, zorder=3)

    if i == 16:
        ax.vlines(bad_data_q, 0, 80.3, color="black", lw=0.7, zorder=3)
        ax.text(np.mean(bad_data_q), 44.6, "bad data", rotation=90,
                ha="center", va="center", fontsize=10, family=MONO)

    ax.text(0.0285, 0.932, titles[i], transform=ax.transAxes, ha="left",
            va="center", fontsize=9.8, family=MONO, zorder=4)

    ax.xaxis.set_major_locator(FixedLocator([2000, 3000]))
    ax.xaxis.set_minor_locator(MultipleLocator(100))
    ax.tick_params(axis="x", which="major", direction="in", top=True,
                   bottom=True, length=5, width=0.7, pad=5.5,
                   labelbottom=(r == 6), labelsize=9)
    ax.tick_params(axis="x", which="minor", direction="in", top=True,
                   bottom=True, length=2.8, width=0.7)
    ax.set_yticks([])
    for lab in ax.get_xticklabels():
        lab.set_family(MONO)
    for sp in ax.spines.values():
        sp.set_linewidth(0.8)

    if r == 6:
        fig.text((col_left[c] + axw / 2 - 9) / W, 1 - 1811.7 / H,
                 "Restframe wavelength (Å)", ha="center", va="center",
                 fontsize=10, family=MONO)

fig.savefig("out.png", dpi=100)
